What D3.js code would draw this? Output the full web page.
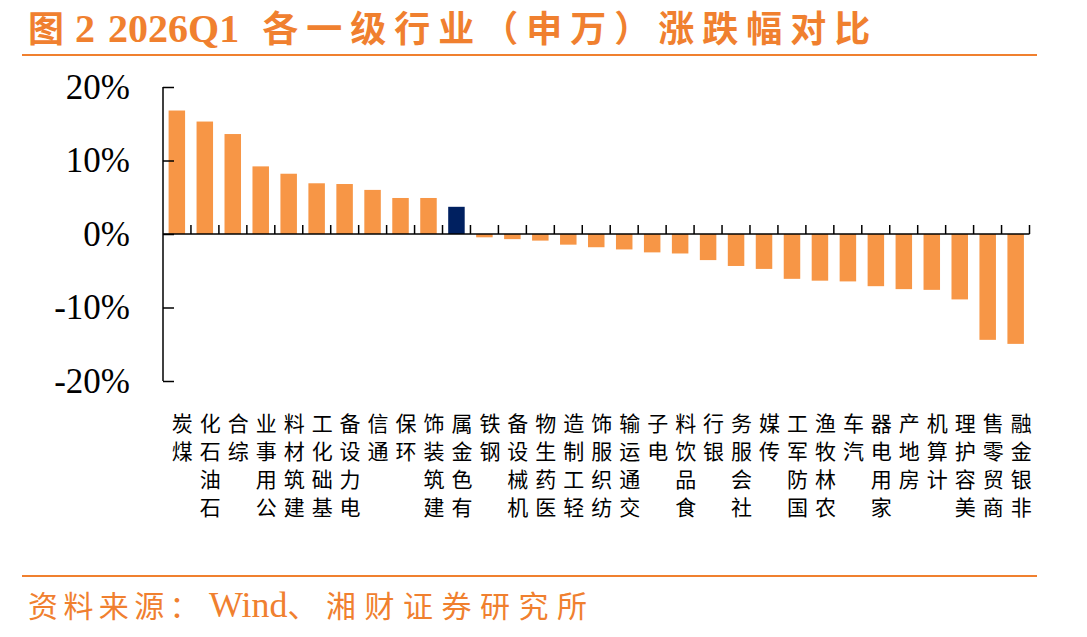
<!DOCTYPE html>
<html>
<head>
<meta charset="utf-8">
<script src="https://cdn.jsdelivr.net/npm/d3@7"></script>
<style>
    body { margin: 0; background: #fff; }
    svg { display: block; }
</style>
</head>
<body>
<svg width="1087" height="637"></svg>
<script>
// industry names (SW level 1), sorted by change
var industries = ["煤炭", "石油石化", "综合", "公用事业", "建筑材料", "基础化工", "电力设备", "通信",
    "环保", "建筑装饰", "有色金属", "钢铁", "机械设备", "医药生物", "轻工制造", "纺织服饰", "交通运输",
    "电子", "食品饮料", "银行", "社会服务", "传媒", "国防军工", "农林牧渔", "汽车", "家用电器",
    "房地产", "计算机", "美容护理", "商贸零售", "非银金融"];

// 2026Q1 change, %
var changes = [16.8, 15.3, 13.6, 9.2, 8.2, 6.9, 6.8, 6.0, 4.9, 4.9, 3.7, -0.45, -0.7, -0.9, -1.45,
    -1.8, -2.1, -2.5, -2.65, -3.55, -4.35, -4.75, -6.1, -6.35, -6.45, -7.1, -7.5, -7.6, -8.9,
    -14.4, -14.95];

var highlighted = ["有色金属"];
var yTicks = [-20, -10, 0, 10, 20];

// title and source pieces: [text, font size, letter spacing, gap before]
var titleParts = [["图", 36, 0, 0], ["2", 40, 0, 11], ["2026Q1", 40, 0, 13], ["各一级行业（申万）涨跌幅对比", 36, 8, 23]];
var sourceParts = [["资料来源：", 30, 5.4, 0], ["Wind", 36, 0, 4], ["、湘财证券研究所", 30, 8.5, 0]];

var orange = "#f0802f";
var colorMap = {
    'normal': '#f79646',
    'highlight': '#002060'
};

var svg = d3.select("svg");
var serif = "'Liberation Serif', 'Times New Roman', 'Noto Sans CJK SC', serif";
var cjk = "'Noto Sans CJK SC', sans-serif";

var x = d3.scaleBand()
    .domain(industries)
    .range([163, 1029.5])
    .paddingInner(0.41)
    .paddingOuter(0.2);

var y = d3.scaleLinear()
    .domain([-20, 20])
    .range([381, 87]);

function spacedText(parts, xPos, yPos, bold) {
    var t = svg.append("text")
        .attr("x", xPos)
        .attr("y", yPos)
        .attr("fill", orange)
        .attr("font-family", serif)
        .attr("font-weight", bold ? "bold" : "normal");
    t.selectAll("tspan")
        .data(parts)
        .enter()
        .append("tspan")
        .attr("font-size", d => d[1])
        .attr("letter-spacing", d => d[2])
        .attr("dx", d => d[3])
        .text(d => d[0]);
    return t;
}

// title + rule
spacedText(titleParts, 28, 42, true);

svg.append("line")
    .attr("x1", 22).attr("x2", 1037)
    .attr("y1", 55).attr("y2", 55)
    .attr("stroke", orange)
    .attr("stroke-width", 2);

// bars
svg.selectAll(".bar")
    .data(industries)
    .enter()
    .append("rect")
    .attr("class", "bar")
    .attr("x", d => x(d))
    .attr("width", x.bandwidth())
    .attr("y", (d, i) => y(Math.max(0, changes[i])))
    .attr("height", (d, i) => Math.abs(y(changes[i]) - y(0)))
    .attr("fill", d => highlighted.indexOf(d) != -1 ? colorMap['highlight'] : colorMap['normal']);

// y axis, ticks pointing inward
var yAxis = svg.append("g")
    .attr("transform", "translate(163,0)")
    .call(d3.axisLeft(y).tickValues(yTicks).tickSize(-11).tickPadding(33).tickFormat(d => d + "%"));

yAxis.select(".domain")
    .attr("d", "M0," + y(20) + "V" + y(-20))
    .attr("stroke-width", 1.5);
yAxis.selectAll(".tick line").attr("stroke-width", 1.5);
yAxis.selectAll(".tick text")
    .attr("font-family", serif)
    .attr("font-size", 35)
    .attr("fill", "#000");

// zero line with small ticks between the bars
var bounds = d3.range(1, industries.length + 1).map(i => 163 + i * (1029.5 - 163) / industries.length);
svg.append("line")
    .attr("x1", 163).attr("x2", 1029.5)
    .attr("y1", y(0)).attr("y2", y(0))
    .attr("stroke", "#000")
    .attr("stroke-width", 1.5);

svg.selectAll(".xtick")
    .data(bounds)
    .enter()
    .append("line")
    .attr("class", "xtick")
    .attr("x1", d => d).attr("x2", d => d)
    .attr("y1", y(0)).attr("y2", y(0) - 9)
    .attr("stroke", "#000")
    .attr("stroke-width", 1.5);

// category labels: upright chars, read bottom to top, hanging from the top
var labels = svg.selectAll(".label")
    .data(industries)
    .enter()
    .append("g")
    .attr("class", "label")
    .attr("transform", d => "translate(" + (x(d) + x.bandwidth() / 2 + 5.5) + ",0)");

labels.each(function(d) {
    var chars = d.split("").reverse();
    d3.select(this).selectAll("text")
        .data(chars)
        .enter()
        .append("text")
        .attr("x", 0)
        .attr("y", (c, k) => 422 + k * 28)
        .attr("text-anchor", "middle")
        .attr("dominant-baseline", "central")
        .attr("font-family", cjk)
        .attr("font-size", 21)
        .attr("fill", "#000")
        .text(c => c);
});

// source footer
svg.append("line")
    .attr("x1", 22).attr("x2", 1037)
    .attr("y1", 576).attr("y2", 576)
    .attr("stroke", orange)
    .attr("stroke-width", 2);

spacedText(sourceParts, 28, 617, false);
</script>
</body>
</html>
